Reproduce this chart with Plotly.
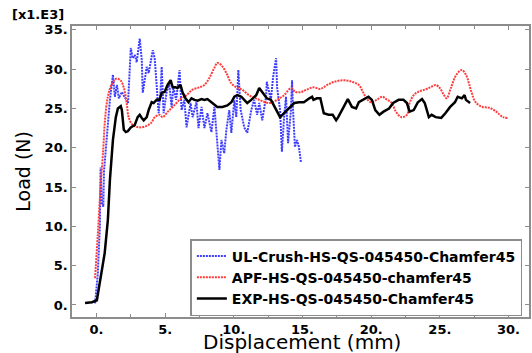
import plotly.graph_objects as go

# ---- data (displacement mm, load kN) ----
ul_x = [-0.1, 0.1, 0.25, 0.3, 0.4, 0.5, 0.55, 0.7, 0.83, 0.98, 1.2, 1.34, 1.49, 1.63, 1.85, 2.2, 2.3,
        2.5, 2.64, 2.8, 2.93, 3.15, 3.3, 3.37, 3.66, 3.8, 4.1, 4.24, 4.38, 4.53, 4.67, 4.75, 4.89,
        5.1, 5.3, 5.47, 5.6, 5.8, 6.05, 6.2, 6.4, 6.56, 6.85, 7.0, 7.28, 7.43, 7.65, 7.86, 8.08,
        8.37, 8.59, 8.8, 8.95, 9.1, 9.3, 9.46, 9.67, 9.82, 10.04, 10.18, 10.33, 10.5, 10.76, 10.98,
        11.27, 11.48, 11.7, 11.85, 12.07, 12.35, 12.4, 12.7, 12.86, 13.08, 13.15, 13.37, 13.5,
        13.66, 13.8, 13.95, 14.16, 14.24, 14.3, 14.45, 14.6, 14.74, 14.89]
ul_y = [0.2, 4.0, 10.0, 17.5, 13.0, 12.5, 17.0, 20.0, 23.1, 26.1, 29.3, 26.5, 28.0, 26.3, 27.1, 26.1, 25.7,
        32.7, 31.4, 31.8, 30.9, 33.9, 31.2, 27.0, 30.3, 29.5, 32.4, 31.4, 28.2, 24.4, 27.4, 30.3, 24.4,
        27.0, 28.2, 25.2, 27.7, 26.1, 29.9, 24.8, 26.1, 22.6, 25.7, 23.9, 25.8, 22.5, 25.2, 22.5, 24.4,
        22.0, 25.2, 21.0, 17.2, 21.0, 19.3, 22.3, 24.8, 21.9, 26.1, 23.9, 29.9, 24.8, 22.6, 21.9,
        24.8, 26.1, 24.2, 25.7, 23.5, 26.5, 28.4, 26.1, 29.0, 31.4, 27.7, 24.8, 19.5,
        23.9, 26.5, 20.6, 24.8, 28.6, 25.2, 20.1, 21.0, 20.1, 18.1]

apf_x = [-0.1, 0.1, 0.3, 0.5, 0.62, 0.83, 1.1, 1.45, 1.75, 2.0, 2.2, 2.36, 2.65, 3.15, 3.66, 4.0, 4.24,
         4.6, 4.82, 5.2, 5.55, 6.05, 6.56, 7.0, 7.5, 7.86, 8.22, 8.59, 8.8, 9.1, 9.46, 9.82, 10.2,
         10.6, 11.1, 11.6, 12.0, 12.57, 13.15, 13.66, 14.16, 14.5, 14.9, 15.3, 15.8, 16.3, 16.8,
         17.3, 18.0, 18.6, 19.1, 19.4, 19.7, 20.0, 20.4, 20.8, 21.1, 21.5, 21.8, 22.2, 22.6, 22.8,
         23.1, 23.4, 23.9, 24.3, 24.7, 25.0, 25.3, 25.5, 25.8, 26.2, 26.6, 26.9, 27.3, 27.6, 28.1,
         28.6, 29.1, 29.6, 30.0]
apf_y = [3.4, 9.0, 15.0, 20.0, 23.5, 26.5, 28.0, 28.8, 28.6, 27.6, 25.7, 23.8, 22.9, 22.6, 22.8, 23.2, 23.9,
         24.2, 23.9, 24.6, 25.2, 26.1, 26.7, 27.4, 27.7, 28.0, 28.9, 30.2, 30.8, 30.5, 29.5, 28.2, 27.7,
         27.4, 26.7, 26.3, 26.0, 25.7, 26.1, 26.7, 27.6, 27.1, 27.1, 27.4, 27.7, 27.5, 28.0,
         28.4, 28.6, 28.4, 28.0, 27.1, 26.2, 25.8, 26.1, 26.5, 26.2, 25.7, 24.6, 23.9, 24.2, 25.7,
         26.7, 27.1, 27.4, 27.7, 28.0, 27.6, 26.7, 26.3, 27.6, 29.3, 29.9, 29.3, 27.1, 25.8, 25.2,
         25.1, 24.6, 23.9, 23.8]

exp_x = [-0.83, -0.33, 0.03, 0.25, 0.6, 0.83, 0.98, 1.2, 1.41, 1.56, 1.77, 1.85, 1.99, 2.14, 2.28,
         2.5, 2.79, 3.0, 3.15, 3.3, 3.44, 3.66, 3.8, 4.02, 4.16, 4.38, 4.6, 4.75, 4.96, 5.18, 5.4,
         5.55, 5.76, 5.9, 6.12, 6.26, 6.48, 6.7, 6.92, 7.14, 7.36, 7.65, 7.86, 8.08, 8.44, 8.8, 9.17,
         9.53, 9.82, 10.04, 10.26, 10.55, 10.76, 10.98, 11.27, 11.63, 11.85, 12.07, 12.4, 12.7,
         13.08, 13.37, 13.66, 14.0, 14.4, 14.75, 15.1, 15.5, 15.7, 15.8, 16.05, 16.3, 16.55, 16.9,
         17.2, 17.45, 17.6, 18.0, 18.3, 18.6, 18.9, 19.1, 19.45, 19.8, 20.05, 20.3, 20.6, 20.9, 21.3,
         21.6, 22.0, 22.35, 22.6, 22.8, 23.1, 23.4, 23.7, 23.9, 24.2, 24.4, 24.7, 25.1, 25.4, 25.75,
         26.1, 26.3, 26.6, 26.8, 26.9, 27.2]
exp_y = [0.25, 0.35, 0.6, 2.8, 6.6, 10.8, 15.9, 21.0, 23.9, 25.0, 25.3, 24.8, 22.3, 22.0, 22.1,
         22.6, 22.9, 23.9, 24.2, 23.8, 23.5, 23.9, 24.8, 25.8, 25.7, 26.1, 26.1, 27.0, 27.1, 28.0, 28.6,
         27.7, 27.7, 27.6, 28.0, 27.1, 26.3, 25.8, 26.3, 26.1, 26.0, 26.2, 26.1, 26.2, 25.7, 25.2, 25.2,
         25.4, 25.8, 26.5, 26.7, 26.5, 26.1, 25.7, 26.1, 26.7, 27.6, 27.1, 26.3, 26.1,
         24.8, 23.9, 24.4, 25.0, 25.7, 25.8, 25.8, 26.3, 26.5, 26.1, 26.3, 26.3, 24.4, 24.2,
         24.2, 23.5, 23.9, 25.2, 26.2, 25.2, 25.0, 25.8, 26.1, 26.5, 26.1, 24.8, 24.2, 24.6, 25.0,
         25.7, 26.1, 26.1, 25.7, 24.6, 24.8, 25.8, 26.2, 25.7, 23.9, 24.2, 23.9, 23.8, 24.4, 25.2,
         25.8, 26.5, 26.3, 26.7, 26.1, 25.7]

tick_vals = [0, 5, 10, 15, 20, 25, 30]
x_tick_text = ["0.", "5.", "10.", "15.", "20.", "25.", "30."]
y_tick_vals = [0, 5, 10, 15, 20, 25, 30, 35]
y_tick_text = ["0.", "5.", "10.", "15.", "20.", "25.", "30.", "35."]

names = ["UL-Crush-HS-QS-045450-Chamfer45", "APF-HS-QS-045450-chamfer45", "EXP-HS-QS-045450-Chamfer45"]

fig = go.Figure()
fig.add_trace(go.Scatter(x=ul_x, y=ul_y, mode="lines", name=names[0],
                         line=dict(color="rgb(60,60,255)", width=2, dash="2px,1px")))
fig.add_trace(go.Scatter(x=apf_x, y=apf_y, mode="lines", name=names[1], line_shape="spline",
                         line=dict(color="rgb(255,60,60)", width=2, dash="2px,1px")))
fig.add_trace(go.Scatter(x=exp_x, y=exp_y, mode="lines", name=names[2],
                         line=dict(color="black", width=2.5)))

axis_common = dict(showgrid=False, zeroline=False, showline=True, linecolor="#8c8c8c", linewidth=1.5,
                   mirror="ticks", ticks="inside", ticklen=4, tickcolor="#8c8c8c",
                   tickfont=dict(family="DejaVu Sans", size=13, color="black", weight="bold"))

fig.update_xaxes(range=[-1.78, 31.49], tickvals=tick_vals, ticktext=x_tick_text,
                 minor=dict(dtick=2.5, tick0=0, ticks="inside", ticklen=3, tickcolor="#8c8c8c"),
                 **axis_common)
fig.update_yaxes(range=[-1.53, 35.5], tickvals=y_tick_vals, ticktext=y_tick_text, **axis_common)

fig.update_layout(
    width=532, height=353,
    margin=dict(l=72, r=1, t=26, b=36),
    paper_bgcolor="white", plot_bgcolor="white",
    showlegend=True,
    legend=dict(x=0.259, y=0.268, xanchor="left", yanchor="top",
                bgcolor="white", bordercolor="#8c8c8c", borderwidth=1.5,
                font=dict(family="DejaVu Sans", size=14, color="black", weight="bold"),
                tracegroupgap=0, itemwidth=30),
    annotations=[
        dict(text="Displacement (mm)", xref="paper", yref="paper", x=0.503, y=-0.087,
             xanchor="center", yanchor="middle", showarrow=False,
             font=dict(family="DejaVu Sans", size=20, color="black")),
        dict(text="Load (N)", xref="paper", yref="paper", x=-0.109, y=0.5, textangle=-90,
             xanchor="center", yanchor="middle", showarrow=False,
             font=dict(family="DejaVu Sans", size=19, color="black")),
        dict(text="[x1.E3]", xref="paper", yref="paper", x=-0.135, y=1.04,
             xanchor="left", yanchor="middle", showarrow=False,
             font=dict(family="DejaVu Sans", size=13, color="black", weight="bold")),
    ],
)

fig.write_html("out.html", config={"displayModeBar": False},
               post_script="document.body.style.margin='0';document.body.style.overflow='hidden';")
